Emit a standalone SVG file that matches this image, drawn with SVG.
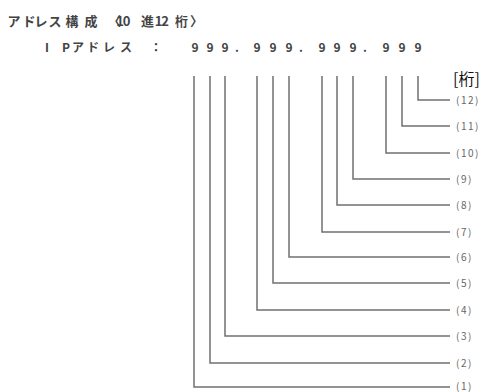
<svg xmlns="http://www.w3.org/2000/svg" width="491" height="392" viewBox="0 0 491 392">
<style>
.t{font-family:"Noto Sans CJK JP","Noto Sans",sans-serif;fill:#444;text-anchor:middle;font-weight:bold}
.lbl{font-family:"Noto Sans CJK JP","Noto Sans",sans-serif;font-size:10px;fill:#666;letter-spacing:1.5px}
.ln{fill:none;stroke:#707070;stroke-width:1.5}
</style>
<rect width="491" height="392" fill="#fff"/>
<g id="title">
<text class="t" font-size="13" y="26" x="14 29 41 55 72 91 114.5 120 126.5 147.5 158.5 165 181.5 196.5">アドレス構成〈10進12桁〉</text>
</g>
<g id="ip">
<text class="t" font-size="12" y="52" x="47 66 78 93 109 126 156 195 210 225 237 257 273 289 301 322 337 353 365 386 402 418">IPアドレス：999.999.999.999</text>
</g>
<g id="unit">
<text x="453" y="85" font-family="'Noto Sans CJK JP','Noto Sans',sans-serif" font-size="16" fill="#111">[桁]</text>
</g>
<g id="connectors">
<path class="ln" d="M194,76V387H450"/>
<path class="ln" d="M210,76V363H450"/>
<path class="ln" d="M225,76V336H450"/>
<path class="ln" d="M257,76V310H450"/>
<path class="ln" d="M273,76V283H450"/>
<path class="ln" d="M289,76V257H450"/>
<path class="ln" d="M322,76V232H450"/>
<path class="ln" d="M337,76V205H450"/>
<path class="ln" d="M353,76V179H450"/>
<path class="ln" d="M386,76V153H450"/>
<path class="ln" d="M402,76V126H450"/>
<path class="ln" d="M418,76V100H450"/>
</g>
<g id="labels">
<text class="lbl" x="456" y="390">(1)</text>
<text class="lbl" x="456" y="367">(2)</text>
<text class="lbl" x="456" y="340">(3)</text>
<text class="lbl" x="456" y="314">(4)</text>
<text class="lbl" x="456" y="287">(5)</text>
<text class="lbl" x="456" y="261">(6)</text>
<text class="lbl" x="456" y="236">(7)</text>
<text class="lbl" x="456" y="209">(8)</text>
<text class="lbl" x="456" y="183">(9)</text>
<text class="lbl" x="456" y="157">(10)</text>
<text class="lbl" x="456" y="130">(11)</text>
<text class="lbl" x="456" y="104">(12)</text>
</g>
</svg>
